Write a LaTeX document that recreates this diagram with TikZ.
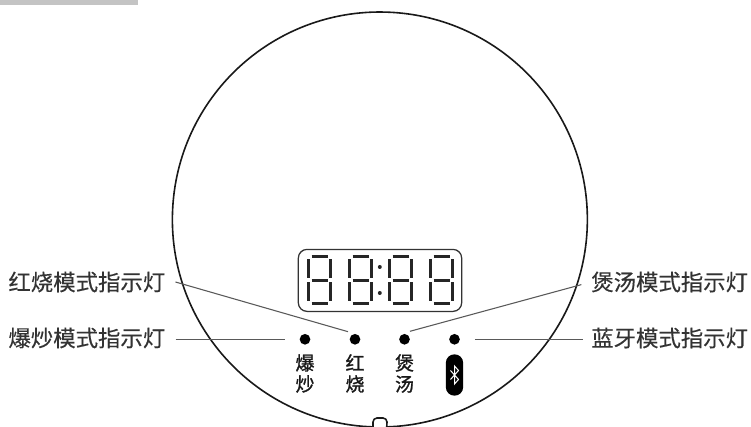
\documentclass[tikz,border=0pt]{standalone}
\usepackage{fontspec}
\newfontfamily\cjk{Noto Sans CJK SC}
\newfontfamily\cjkkey[FakeBold=1.2]{Noto Sans CJK SC}
\newfontfamily\cjklbl[FakeBold=0.3]{Noto Sans CJK SC}
\tikzset{
  lbl/.style={font=\cjklbl\fontsize{16.8pt}{18pt}\selectfont,text=black!80,inner sep=0pt},
  keytxt/.style={font=\cjkkey\fontsize{14.2pt}{15.8pt}\selectfont,text=black!90,inner sep=0pt,align=center},
  leader/.style={draw=black!65,line width=0.8pt},
  led/.style={circle,fill=black,minimum size=8pt,inner sep=0pt},
  seg/.style={line width=2pt,black!85},
  dot/.style={circle,fill=black!85,minimum size=3pt,inner sep=0pt}
}
% seven-segment digit: #1 = left x, #2 = top y (px)
\newcommand{\sevenseg}[2]{%
 \begin{scope}[shift={(#1,-#2)}]
  \draw[seg] (4.5,-1.2)--(20.5,-1.2);
  \draw[seg] (4.5,-24.7)--(20.5,-24.7);
  \draw[seg] (4.5,-48.3)--(20.5,-48.3);
  \draw[seg] (1.2,-4)--(1.2,-22.5);
  \draw[seg] (23.8,-4)--(23.8,-22.5);
  \draw[seg] (1.2,-27)--(1.2,-45.5);
  \draw[seg] (23.8,-27)--(23.8,-45.5);
 \end{scope}}
\begin{document}
\begin{tikzpicture}[x=0.75pt,y=0.75pt]
\useasboundingbox (0,0) rectangle (751,-427);
\fill[white] (0,0) rectangle (751,-427);
\fill[black!23] (0,0) rectangle (138,-5);
% body circle with notch
\begin{scope}
\clip (0,0) rectangle (751,-427);
\draw[line width=1.2pt,black!90,line join=round]
  (373,-426.9) arc[start angle=268.1,end angle=-88.1,radius=207.5]
  -- (387,-422) arc[start angle=0,end angle=90,radius=4] -- (377,-418)
  arc[start angle=90,end angle=180,radius=4] -- cycle;
\end{scope}
% display
\node[draw=black!80,line width=0.95pt,rounded corners=6.5pt,minimum width=122.5pt,minimum height=46.5pt,inner sep=0pt] (display) at (380,-280.4) {};
\sevenseg{307}{255.5}
\sevenseg{348}{255.5}
\sevenseg{388}{255.5}
\sevenseg{429}{255.5}
\node[dot] (colonA) at (379.8,-267) {};
\node[dot] (colonB) at (379.8,-293) {};
% LEDs
\node[led] (ledA) at (305,-339.3) {};
\node[led] (ledB) at (355,-339.3) {};
\node[led] (ledC) at (404.5,-339.3) {};
\node[led] (ledD) at (454.5,-339.3) {};
% key texts
\node[keytxt] (keyA) at (305,-373.5) {爆\\炒};
\node[keytxt] (keyB) at (355,-373.5) {红\\烧};
\node[keytxt] (keyC) at (404.5,-373.5) {煲\\汤};
% bluetooth pill
\node[fill=black,minimum width=13pt,minimum height=31pt,rounded corners=6.4pt,inner sep=0pt] (pill) at (454.5,-375) {};
\draw[white,line width=0.75pt,line join=miter] (450.5,-370.5) -- (458.5,-379.5) -- (454.5,-384) -- (454.5,-366) -- (458.5,-370.5) -- (450.5,-379.5);
% outer labels
\node[lbl,anchor=east] (lblA) at (165.5,-282) {红烧模式指示灯};
\node[lbl,anchor=east] (lblB) at (165.5,-338) {爆炒模式指示灯};
\node[lbl,anchor=west] (lblC) at (591,-282) {煲汤模式指示灯};
\node[lbl,anchor=west] (lblD) at (591,-338) {蓝牙模式指示灯};
% leaders
\coordinate (endA) at (348,-331.7);
\coordinate (endC) at (410,-331.3);
\draw[leader] ([xshift=7.5pt]lblA.east) -- (endA);
\draw[leader,shorten <=7.5pt,shorten >=11pt] (lblB.east |- ledA) -- (ledA.west);
\draw[leader,shorten >=7.5pt] (endC) -- (lblC.west);
\draw[leader,shorten <=11pt,shorten >=6pt] (ledD.east) -- (lblD.west |- ledD);
\end{tikzpicture}
\end{document}
